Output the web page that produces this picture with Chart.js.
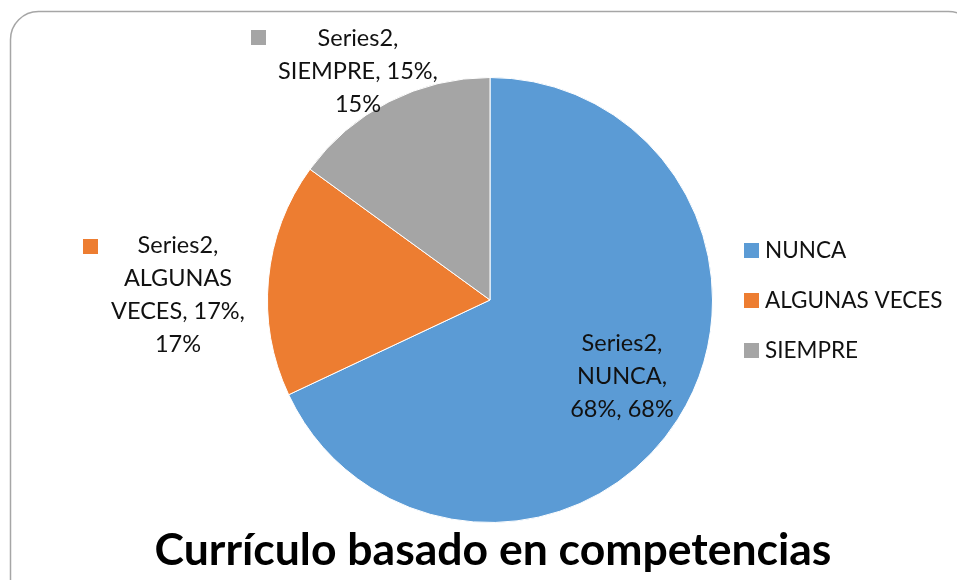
<!DOCTYPE html>
<html lang="es">
<head>
  <meta charset="UTF-8">
  <title>Currículo basado en competencias</title>
  <script src="https://cdn.jsdelivr.net/npm/chart.js"></script>
  <style>
    body { margin: 0; background: #ffffff; }
    #wrap { position: relative; width: 957px; height: 580px; }
  </style>
</head>
<body>
  <div id="wrap"><canvas id="pie" width="957" height="580"></canvas></div>
  <script>
    const categories = ['NUNCA', 'ALGUNAS VECES', 'SIEMPRE'];
    const values = [68, 17, 15];
    const seriesName = 'Series2';
    const colors = ['#5B9BD5', '#ED7D31', '#A5A5A5'];
    const titleText = 'Currículo basado en competencias';

    const FONT = "Lato, 'Open Sans', sans-serif";

    // label boxes: lines of text, center x, first line y, key square position
    const labelLayout = [
      { lines: [seriesName + ',', 'NUNCA,', '68%, 68%'], cx: 622, y: 343, key: null },
      { lines: [seriesName + ',', 'ALGUNAS', 'VECES, 17%,', '17%'], cx: 178, y: 245, key: [83, 239] },
      { lines: [seriesName + ',', 'SIEMPRE, 15%,', '15%'], cx: 358, y: 38, key: [251, 30] }
    ];

    const decor = {
      id: 'decor',
      beforeDraw(chart) {
        const c = chart.ctx;
        c.save();
        c.strokeStyle = '#a6a6a6';
        c.lineWidth = 1.5;
        c.beginPath();
        c.roundRect(10.5, 11.5, 966, 640, 28);
        c.stroke();
        c.restore();
      },
      afterDraw(chart) {
        const c = chart.ctx;
        c.save();
        c.textBaseline = 'middle';
        // data labels
        c.font = '23.5px ' + FONT;
        c.textAlign = 'center';
        labelLayout.forEach((lb, i) => {
          lb.lines.forEach((t, j) => {
            c.fillStyle = '#111';
            c.fillText(t, lb.cx, lb.y + j * 33);
          });
          if (lb.key) {
            c.fillStyle = colors[i];
            c.fillRect(lb.key[0], lb.key[1], 15, 15);
          }
        });
        // legend
        c.textAlign = 'left';
        c.font = '22.5px ' + FONT;
        categories.forEach((cat, i) => {
          const y = 250 + i * 50;
          c.fillStyle = colors[i];
          c.fillRect(744, y - 7, 15, 15);
          c.fillStyle = '#111';
          c.fillText(cat, 765, y + 1);
        });
        // title
        c.textAlign = 'center';
        c.font = 'bold 44.5px ' + FONT;
        c.fillStyle = '#000';
        c.fillText(titleText, 493, 551);
        c.restore();
      }
    };

    new Chart(document.getElementById('pie'), {
      type: 'pie',
      data: {
        labels: categories,
        datasets: [{
          label: seriesName,
          data: values,
          backgroundColor: colors,
          borderColor: '#ffffff',
          borderWidth: 1
        }]
      },
      options: {
        responsive: false,
        animation: false,
        layout: { padding: { top: 77, bottom: 57, left: 267, right: 244 } },
        plugins: {
          legend: { display: false },
          title: { display: false },
          tooltip: { enabled: false }
        }
      },
      plugins: [decor]
    });
  </script>
</body>
</html>
